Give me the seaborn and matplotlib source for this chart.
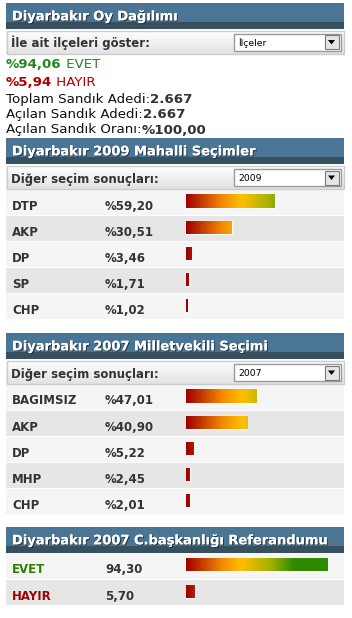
import numpy as np
import pandas as pd
import matplotlib
matplotlib.use("Agg")
import matplotlib.pyplot as plt
import seaborn as sns
from matplotlib.patches import Rectangle, Polygon
from matplotlib.colors import LinearSegmentedColormap
import matplotlib.patheffects as pe

sns.set_theme(style="white")
plt.rcParams['font.family'] = ['DejaVu Sans']

# ---------------- data ----------------
summary_title = "Diyarbakır Oy Dağılımı"
summary_select_label = "İle ait ilçeleri göster:"
summary_select_value = "İlçeler"
evet_pct = "%94,06"
hayir_pct = "%5,94"
toplam_sandik = "2.667"
acilan_sandik = "2.667"
acilan_oran = "%100,00"

select_label = "Diğer seçim sonuçları:"

sec2_title = "Diyarbakır 2009 Mahalli Seçimler"
sec2_year = "2009"
sec2_parties = ["DTP", "AKP", "DP", "SP", "CHP"]
sec2_values = [59.20, 30.51, 3.46, 1.71, 1.02]

sec3_title = "Diyarbakır 2007 Milletvekili Seçimi"
sec3_year = "2007"
sec3_parties = ["BAGIMSIZ", "AKP", "DP", "MHP", "CHP"]
sec3_values = [47.01, 40.90, 5.22, 2.45, 2.01]

sec4_title = "Diyarbakır 2007 C.başkanlığı Referandumu"
sec4_labels = ["EVET", "HAYIR"]
sec4_values = [94.30, 5.70]

# ---------------- figure ----------------
W, H = 352, 618
fig = plt.figure(figsize=(W / 100, H / 100), dpi=100)
fig.patch.set_facecolor("white")
bg = fig.add_axes([0, 0, 1, 1])
bg.set_xlim(0, W)
bg.set_ylim(H, 0)
bg.axis("off")
renderer = fig.canvas.get_renderer()


def text_width(s, size, weight="normal"):
    t = bg.text(0, 0, s, fontsize=size, fontweight=weight)
    w = t.get_window_extent(renderer).width
    t.remove()
    return w


def fit(s, weight, target):
    return 10 * target / text_width(s, 10, weight)


HEAD_SIZE = fit(sec2_title, "bold", 243)
LAB_SIZE = fit(select_label, "bold", 148)
SUM_SIZE = fit("Toplam Sandık Adedi:", "normal", 144)
DD_SIZE = fit("İlçeler", "normal", 28)

DARK = "#333333"
GREEN = "#1f8a1f"
RED = "#ad0000"

bar_cmap = LinearSegmentedColormap.from_list(
    "bar",
    [(0.0, "#a00000"), (0.24, "#f58a00"), (0.37, "#ffbf00"),
     (0.56, "#a2b200"), (0.72, "#2e8a00"), (1.0, "#2e8a00")])
dd_cmap = LinearSegmentedColormap.from_list("dd", ["#ffffff", "#e2e2e2"])


def header(top, title):
    bg.add_patch(Rectangle((6, top), 338, 19, color="#4a7594", lw=0, zorder=1))
    bg.add_patch(Rectangle((6, top + 19), 338, 7, color="#37505f", lw=0, zorder=1))
    bg.text(12, top + 17.3, title, color="white", fontsize=HEAD_SIZE,
            fontweight="bold", va="baseline", zorder=3,
            path_effects=[pe.withSimplePatchShadow(offset=(0.8, -0.8),
                                                    shadow_rgbFace="#1a2a33",
                                                    alpha=0.8),
                          pe.Normal()])


def dropdown(top, label, value):
    g = np.linspace(0, 1, 64).reshape(-1, 1)
    bg.imshow(g, extent=(6, 344, top + 24, top), cmap=dd_cmap, aspect="auto",
              origin="upper", zorder=1)
    bg.add_patch(Rectangle((6.5, top + 0.5), 337, 23, fill=False,
                           ec="#cccccc", lw=1, zorder=2))
    bg.text(11, top + 17.5, label, color=DARK, fontsize=LAB_SIZE,
            fontweight="bold", va="baseline", zorder=3)
    bg.add_patch(Rectangle((233.5, top + 3.5), 107, 17, fc="white",
                           ec="#9a9a9a", lw=1, zorder=2))
    bg.add_patch(Rectangle((325, top + 5), 14, 14, fc="#e6e6e6",
                           ec="#7a7a7a", lw=0.8, zorder=3))
    cx, cy = 331.5, top + 12
    bg.add_patch(Polygon([(cx - 3.5, cy - 2), (cx + 3.5, cy - 2), (cx, cy + 2.5)],
                         closed=True, fc="black", lw=0, zorder=4))
    bg.text(238, top + 15.5, value, color="black", fontsize=DD_SIZE,
            va="baseline", zorder=3)


def rows(top, labels, texts, h=26.2, label_colors=None):
    for i, (lab, txt) in enumerate(zip(labels, texts)):
        y = top + i * h
        c = "#f5f5f5" if i % 2 == 0 else "#e6e6e6"
        bg.add_patch(Rectangle((6, y), 338, h - 1.2, color=c, lw=0, zorder=1))
        lc = DARK if label_colors is None else label_colors[i]
        bg.text(12, y + 20, lab, color=lc, fontsize=LAB_SIZE,
                fontweight="bold", va="baseline", zorder=3)
        bg.text(105, y + 20, txt, color=DARK, fontsize=LAB_SIZE,
                fontweight="bold", va="baseline", zorder=3)


def bars(top, labels, values, h=26.2):
    n = len(labels)
    ax = fig.add_axes([186 / W, 1 - (top + n * h) / H, 150 / W, n * h / H])
    df = pd.DataFrame({"label": labels, "value": values})
    sns.barplot(data=df, x="value", y="label", orient="h", width=0.5,
                color="#a00000", saturation=1, ax=ax)
    grad = np.linspace(0, 1, 300).reshape(1, -1)
    for p in list(ax.patches):
        im = ax.imshow(grad, extent=(0, 100, n - 0.5, -0.5), cmap=bar_cmap,
                       aspect="auto", zorder=3)
        im.set_clip_path(p)
    ax.set_xlim(0, 100)
    ax.set_ylim(n - 0.5 + 0.06, -0.5 + 0.06)
    ax.axis("off")
    ax.patch.set_alpha(0)


def pct(v):
    return "%" + f"{v:.2f}".replace(".", ",")


def run(x, y, parts):
    for s, w, c in parts:
        bg.text(x, y, s, color=c, fontsize=SUM_SIZE, fontweight=w,
                va="baseline", zorder=3)
        x += text_width(s, SUM_SIZE, w)


# Section 1: summary
header(3, summary_title)
dropdown(30, summary_select_label, summary_select_value)
run(6, 68.3, [(evet_pct, "bold", GREEN), (" EVET", "normal", GREEN)])
run(6, 85.7, [(hayir_pct, "bold", RED), (" HAYIR", "normal", RED)])
run(6, 102.7, [("Toplam Sandık Adedi:", "normal", "#111111"),
               (toplam_sandik, "bold", DARK)])
run(6, 118.3, [("Açılan Sandık Adedi:", "normal", "#111111"),
               (acilan_sandik, "bold", DARK)])
run(6, 133.5, [("Açılan Sandık Oranı:", "normal", "#111111"),
               (acilan_oran, "bold", DARK)])

# Section 2
header(138, sec2_title)
dropdown(165.5, select_label, sec2_year)
rows(189.5, sec2_parties, [pct(v) for v in sec2_values])
bars(189.5, sec2_parties, sec2_values)

# Section 3
header(333, sec3_title)
dropdown(360.5, select_label, sec3_year)
rows(384.5, sec3_parties, [pct(v) for v in sec3_values])
bars(384.5, sec3_parties, sec3_values)

# Section 4
header(527, sec4_title)
rows(553, sec4_labels, [f"{v:.2f}".replace(".", ",") for v in sec4_values],
     h=26.8, label_colors=["#2a7d00", "#a00000"])
bars(553, sec4_labels, sec4_values, h=26.8)

bg.set_xlim(0, W)
bg.set_ylim(H, 0)
fig.savefig("out.png", dpi=100, facecolor="white")
